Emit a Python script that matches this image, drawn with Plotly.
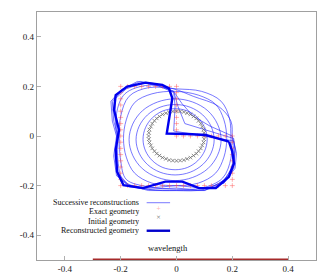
import plotly.graph_objects as go

# ---------------- data ----------------
# Initial geometry: circle r = 0.1
init_x = [0.100, 0.099, 0.097, 0.092, 0.087, 0.079, 0.071, 0.061, 0.050, 0.038, 0.026, 0.013,
          0.000, -0.013, -0.026, -0.038, -0.050, -0.061, -0.071, -0.079, -0.087, -0.092, -0.097, -0.099,
          -0.100, -0.099, -0.097, -0.092, -0.087, -0.079, -0.071, -0.061, -0.050, -0.038, -0.026, -0.013,
          0.000, 0.013, 0.026, 0.038, 0.050, 0.061, 0.071, 0.079, 0.087, 0.092, 0.097, 0.099]
init_y = [0.000, 0.013, 0.026, 0.038, 0.050, 0.061, 0.071, 0.079, 0.087, 0.092, 0.097, 0.099,
          0.100, 0.099, 0.097, 0.092, 0.087, 0.079, 0.071, 0.061, 0.050, 0.038, 0.026, 0.013,
          0.000, -0.013, -0.026, -0.038, -0.050, -0.061, -0.071, -0.079, -0.087, -0.092, -0.097, -0.099,
          -0.100, -0.099, -0.097, -0.092, -0.087, -0.079, -0.071, -0.061, -0.050, -0.038, -0.026, -0.013]

# Exact geometry: L-shaped square with top-right quadrant removed
exact_x = [0.2, 0.2, 0.2, 0.2, 0.2, 0.2, 0.2, 0.2,
           0.2, 0.175, 0.15, 0.125, 0.1, 0.075, 0.05, 0.025, 0.0, -0.025, -0.05, -0.075, -0.1, -0.125, -0.15, -0.175,
           -0.2, -0.2, -0.2, -0.2, -0.2, -0.2, -0.2, -0.2, -0.2, -0.2, -0.2, -0.2, -0.2, -0.2, -0.2, -0.2,
           -0.2, -0.175, -0.15, -0.125, -0.1, -0.075, -0.05, -0.025,
           0.0, 0.0, 0.0, 0.0, 0.0, 0.0, 0.0, 0.0,
           0.0, 0.025, 0.05, 0.075, 0.1, 0.125, 0.15, 0.175]
exact_y = [0.0, -0.025, -0.05, -0.075, -0.1, -0.125, -0.15, -0.175,
           -0.2, -0.2, -0.2, -0.2, -0.2, -0.2, -0.2, -0.2, -0.2, -0.2, -0.2, -0.2, -0.2, -0.2, -0.2, -0.2,
           -0.2, -0.175, -0.15, -0.125, -0.1, -0.075, -0.05, -0.025, 0.0, 0.025, 0.05, 0.075, 0.1, 0.125, 0.15, 0.175,
           0.2, 0.2, 0.2, 0.2, 0.2, 0.2, 0.2, 0.2,
           0.2, 0.175, 0.15, 0.125, 0.1, 0.075, 0.05, 0.025,
           0.0, 0.0, 0.0, 0.0, 0.0, 0.0, 0.0, 0.0]

# Successive reconstructions (smooth rings)
ring1_x = [0.110, 0.101, 0.076, 0.039, -0.005, -0.049, -0.086, -0.111, -0.120, -0.111, -0.086, -0.049, -0.005, 0.039, 0.076, 0.101, 0.110]
ring1_y = [-0.013, 0.034, 0.074, 0.101, 0.110, 0.101, 0.074, 0.034, -0.013, -0.060, -0.100, -0.127, -0.136, -0.127, -0.100, -0.060, -0.013]
ring2_x = [0.135, 0.124, 0.094, 0.049, -0.005, -0.059, -0.104, -0.134, -0.145, -0.134, -0.104, -0.059, -0.005, 0.049, 0.094, 0.124, 0.135]
ring2_y = [-0.015, 0.039, 0.085, 0.116, 0.127, 0.116, 0.085, 0.039, -0.015, -0.069, -0.115, -0.146, -0.157, -0.146, -0.115, -0.069, -0.015]
ring3_x = [0.160, 0.147, 0.112, 0.058, -0.005, -0.068, -0.122, -0.157, -0.170, -0.157, -0.122, -0.068, -0.005, 0.058, 0.112, 0.147, 0.160]
ring3_y = [-0.015, 0.048, 0.102, 0.137, 0.150, 0.137, 0.102, 0.048, -0.015, -0.078, -0.132, -0.167, -0.180, -0.167, -0.132, -0.078, -0.015]
ring4_x = [0.180, 0.170, 0.140, 0.078, -0.005, -0.088, -0.150, -0.180, -0.190, -0.180, -0.150, -0.088, -0.005, 0.078, 0.140, 0.170, 0.180]
ring4_y = [-0.010, 0.065, 0.128, 0.165, 0.180, 0.170, 0.135, 0.065, -0.010, -0.085, -0.150, -0.190, -0.200, -0.190, -0.150, -0.085, -0.010]
ring5_x = [0.195, 0.190, 0.160, 0.090, 0.000, -0.100, -0.170, -0.200, -0.205, -0.200, -0.180, -0.100, 0.000, 0.090, 0.165, 0.195, 0.195]
ring5_y = [-0.010, 0.070, 0.140, 0.180, 0.190, 0.195, 0.160, 0.080, -0.010, -0.100, -0.175, -0.205, -0.215, -0.210, -0.170, -0.090, -0.010]
ring6_x = [0.200, 0.195, 0.150, 0.060, -0.010, -0.100, -0.185, -0.215, -0.210, -0.210, -0.190, -0.100, 0.000, 0.100, 0.175, 0.205, 0.200]
ring6_y = [-0.010, 0.060, 0.120, 0.160, 0.190, 0.205, 0.170, 0.090, -0.010, -0.100, -0.180, -0.215, -0.220, -0.215, -0.170, -0.090, -0.010]

# Successive reconstructions (notch being carved)
carve1_x = [0.20, 0.12, 0.06, 0.02, -0.01, -0.06, -0.12, -0.18, -0.22, -0.22, -0.215, -0.215, -0.21, -0.17, -0.10, 0.00, 0.10, 0.17, 0.205, 0.21, 0.20]
carve1_y = [0.00, 0.04, 0.08, 0.13, 0.18, 0.20, 0.215, 0.19, 0.15, 0.07, 0.00, -0.08, -0.15, -0.20, -0.22, -0.22, -0.22, -0.18, -0.12, -0.05, 0.00]
carve2_x = [0.205, 0.12, 0.03, 0.005, -0.01, -0.07, -0.13, -0.19, -0.23, -0.225, -0.21, -0.22, -0.21, -0.17, -0.10, 0.00, 0.10, 0.17, 0.205, 0.21, 0.205]
carve2_y = [-0.01, 0.02, 0.05, 0.12, 0.18, 0.21, 0.22, 0.19, 0.14, 0.06, 0.00, -0.08, -0.16, -0.205, -0.215, -0.21, -0.22, -0.19, -0.13, -0.06, -0.01]
carve3_x = [0.205, 0.10, -0.01, -0.005, -0.01, -0.07, -0.14, -0.20, -0.235, -0.23, -0.215, -0.225, -0.215, -0.17, -0.10, 0.00, 0.10, 0.17, 0.21, 0.215, 0.205]
carve3_y = [-0.02, 0.00, 0.02, 0.12, 0.175, 0.205, 0.22, 0.185, 0.14, 0.06, 0.00, -0.08, -0.16, -0.20, -0.21, -0.20, -0.21, -0.19, -0.13, -0.07, -0.02]

# Reconstructed geometry (final)
final_x = [0.188, 0.150, 0.105, 0.040, -0.035, -0.025, -0.015, -0.027, -0.051, -0.110, -0.177, -0.218, -0.224,
           -0.206, -0.218, -0.213, -0.190, -0.120, -0.040, 0.021, 0.081, 0.141, 0.188, 0.206, 0.200, 0.188]
final_y = [-0.023, -0.010, 0.004, 0.008, 0.010, 0.080, 0.152, 0.192, 0.206, 0.215, 0.199, 0.165, 0.105,
           0.024, -0.056, -0.144, -0.198, -0.210, -0.184, -0.184, -0.210, -0.210, -0.164, -0.110, -0.063, -0.023]

# Wavelength scale bar
wave_x = [-0.3, 0.4]
wave_y = [-0.5, -0.5]

ticks = [-0.4, -0.2, 0, 0.2, 0.4]
tick_text = ["-0.4", "-0.2", "0", "0.2", "0.4"]

legend_labels = ["Successive reconstructions", "Exact geometry", "Initial geometry", "Reconstructed geometry"]

# ---------------- figure ----------------
FONT = "Times New Roman, Liberation Serif, Tinos, DejaVu Serif, serif"
thin = dict(color="rgba(30,30,255,0.6)", width=1)
exact_col = "rgba(255,80,80,0.45)"
init_col = "rgba(110,110,110,0.8)"

fig = go.Figure()
for xs, ys in [(ring1_x, ring1_y), (ring2_x, ring2_y), (ring3_x, ring3_y),
               (ring4_x, ring4_y), (ring5_x, ring5_y), (ring6_x, ring6_y)]:
    fig.add_trace(go.Scatter(x=xs, y=ys, mode="lines", line=dict(shape="spline", smoothing=1.0, **thin),
                             hoverinfo="skip"))
for xs, ys in [(carve1_x, carve1_y), (carve2_x, carve2_y), (carve3_x, carve3_y)]:
    fig.add_trace(go.Scatter(x=xs, y=ys, mode="lines", line=thin, hoverinfo="skip"))

fig.add_trace(go.Scatter(x=exact_x, y=exact_y, mode="markers",
                         marker=dict(symbol="cross-thin-open", size=3.5, color=exact_col,
                                     line=dict(color=exact_col, width=1))))
fig.add_trace(go.Scatter(x=init_x, y=init_y, mode="markers",
                         marker=dict(symbol="x-thin-open", size=3.5, color=init_col,
                                     line=dict(color=init_col, width=1))))
fig.add_trace(go.Scatter(x=final_x, y=final_y, mode="lines",
                         line=dict(color="#0000ee", width=2.4)))
fig.add_trace(go.Scatter(x=wave_x, y=wave_y, mode="lines", cliponaxis=False,
                         line=dict(color="#a52a2a", width=3)))

# custom gnuplot-style key
row_y = [0.231, 0.194, 0.157, 0.118]
annotations = []
shapes = []
for lab, yy in zip(legend_labels, row_y):
    annotations.append(dict(x=0.369, y=yy, xref="paper", yref="paper", text=lab, showarrow=False,
                            xanchor="right", yanchor="middle", height=9, borderpad=0,
                            font=dict(family=FONT, size=8, color="#111")))
shapes.append(dict(type="line", xref="paper", yref="paper", x0=0.393, x1=0.477, y0=row_y[0], y1=row_y[0],
                   line=dict(color="rgba(30,30,255,0.6)", width=1)))
shapes.append(dict(type="line", xref="paper", yref="paper", x0=0.393, x1=0.477, y0=row_y[3], y1=row_y[3],
                   line=dict(color="#0000cc", width=2.4)))
annotations.append(dict(x=0.435, y=row_y[1], xref="paper", yref="paper", text="+", showarrow=False,
                        height=8, borderpad=0,
                        font=dict(family="DejaVu Sans", size=6, color=exact_col)))
annotations.append(dict(x=0.435, y=row_y[2], xref="paper", yref="paper", text="×", showarrow=False,
                        height=8, borderpad=0,
                        font=dict(family="DejaVu Sans", size=6, color=init_col)))
annotations.append(dict(x=-0.03, y=-0.452, xref="x", yref="y", text="wavelength", showarrow=False,
                        font=dict(family=FONT, size=8.5, color="#111")))

axis_common = dict(range=[-0.5, 0.5], showgrid=False, zeroline=False, showline=True, mirror=True,
                   linecolor="#a0a0a0", linewidth=1.2, ticks="inside", ticklen=4, tickcolor="#b0b0b0",
                   automargin=False,
                   tickvals=ticks, ticktext=tick_text, tickfont=dict(family=FONT, size=9, color="#222"))

fig.update_layout(
    width=332, height=279,
    margin=dict(l=37, r=16, t=12, b=19),
    paper_bgcolor="white", plot_bgcolor="white",
    showlegend=False,
    font=dict(family=FONT),
    xaxis=dict(**axis_common),
    yaxis=dict(**axis_common),
    annotations=annotations,
    shapes=shapes,
)

fig.write_html("out.html", config={"displayModeBar": False},
               post_script="document.body.style.margin='0';document.body.style.overflow='hidden';")
